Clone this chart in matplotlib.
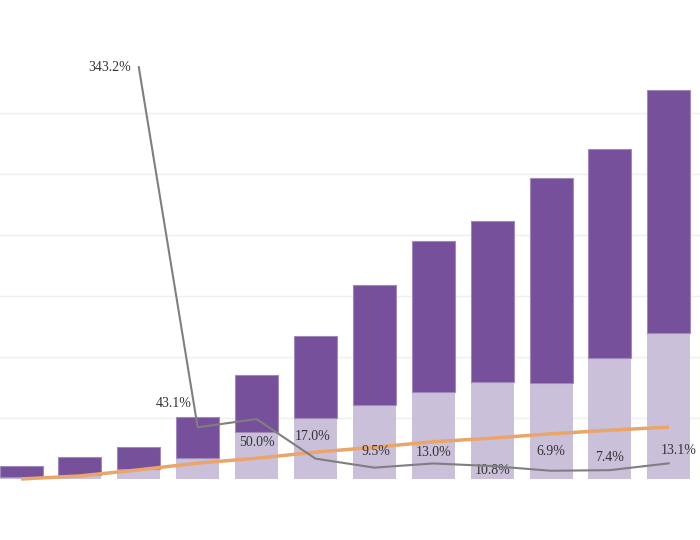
import matplotlib
matplotlib.use("Agg")
import matplotlib.pyplot as plt
import numpy as np

# data (gridline units for bars / orange line, percent for growth line)
categories = list(range(12))
light_vals = [0.03, 0.06, 0.16, 0.34, 0.77, 1.00, 1.21, 1.43, 1.59, 1.57, 1.98, 2.39]
dark_vals = [0.18, 0.30, 0.36, 0.68, 0.93, 1.34, 1.97, 2.47, 2.64, 3.36, 3.43, 3.99]
orange_vals = [0.00, 0.05, 0.15, 0.26, 0.34, 0.44, 0.52, 0.61, 0.67, 0.74, 0.80, 0.85]
growth_idx = [2, 3, 4, 5, 6, 7, 8, 9, 10, 11]
growth_vals = [343.2, 43.1, 50.0, 17.0, 9.5, 13.0, 10.8, 6.9, 7.4, 13.1]
growth_labels = ["343.2%", "43.1%", "50.0%", "17.0%", "9.5%", "13.0%", "10.8%", "6.9%", "7.4%", "13.1%"]
label_offsets = [(-21, 0), (-17, 17), (0, -17), (-2, 16), (1, 11.5), (0, 8), (0, -3), (0, 14), (0, 9), (7, 9)]

fig = plt.figure(figsize=(7, 5.4), dpi=100)
ax = fig.add_axes([0, 0, 1, 1])
x = np.array(categories)

ax.set_xlim(-0.357, 11.53)
ax.set_ylim(-1.0, 7.85)
for g in range(1, 7):
    ax.axhline(g, color="#EFEFEF", lw=1, zorder=0)

ax.bar(x, light_vals, width=0.73, color="#CAC0DA", zorder=2)
ax.bar(x, dark_vals, width=0.73, bottom=light_vals, color="#76509B",
       edgecolor="#A08AB8", linewidth=0.8, zorder=2)
ax.plot(x, orange_vals, color="#EAA56A", lw=2.5, zorder=3, solid_capstyle="butt")

ax2 = ax.twinx()
ax2.set_ylim(-50.8, 399.2)
ax2.plot(growth_idx, growth_vals, color="#7F7F7F", lw=1.5, zorder=4)
for xi, v, lab, (dx, dy) in zip(growth_idx, growth_vals, growth_labels, label_offsets):
    ax2.annotate(lab, (xi, v), xytext=(dx, dy), textcoords="offset points",
                 ha="center", va="center", fontsize=10, family="Liberation Serif",
                 color="#333333")

for a in (ax, ax2):
    a.set_axis_off()

fig.savefig("out.png", dpi=100, facecolor="white")
